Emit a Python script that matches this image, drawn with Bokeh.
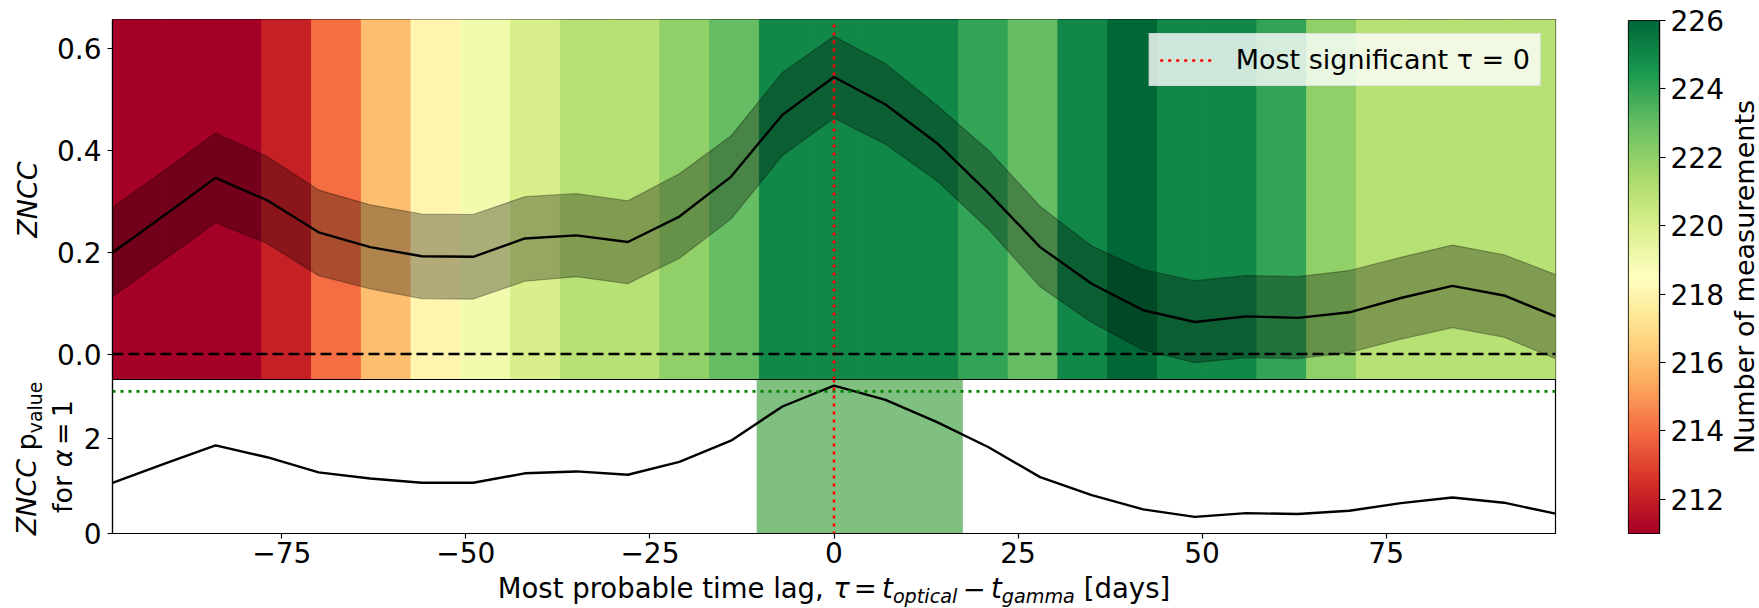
import numpy as np
from bokeh.plotting import figure
from bokeh.models import (Span, BoxAnnotation, Label, Legend, LegendItem, FixedTicker,
                          LinearColorMapper, ColumnDataSource, Range1d, Plot)
from bokeh.layouts import row, column
from bokeh.embed import file_html
from bokeh.resources import INLINE
from bokeh.transform import transform

# ---------------- data ----------------
lags = [-98, -91, -84, -77, -70, -63, -56, -49, -42, -35, -28, -21, -14, -7, 0,
        7, 14, 21, 28, 35, 42, 49, 56, 63, 70, 77, 84, 91, 98]
zncc = [0.199, 0.272, 0.346, 0.302, 0.239, 0.210, 0.192, 0.191, 0.227, 0.233,
        0.220, 0.270, 0.348, 0.470, 0.544, 0.490, 0.414, 0.316, 0.210, 0.138,
        0.086, 0.063, 0.074, 0.071, 0.082, 0.110, 0.134, 0.115, 0.074]
zncc_lo = [0.113, 0.185, 0.258, 0.217, 0.154, 0.128, 0.109, 0.108, 0.143, 0.152,
           0.138, 0.188, 0.265, 0.390, 0.463, 0.412, 0.340, 0.245, 0.132, 0.062,
           0.008, -0.017, -0.007, -0.009, 0.003, 0.029, 0.052, 0.033, -0.009]
zncc_hi = [0.288, 0.360, 0.434, 0.388, 0.322, 0.293, 0.275, 0.274, 0.309, 0.315,
           0.301, 0.354, 0.428, 0.553, 0.624, 0.570, 0.488, 0.400, 0.290, 0.212,
           0.166, 0.144, 0.154, 0.152, 0.164, 0.190, 0.214, 0.195, 0.156]
pvalue = [1.07, 1.47, 1.86, 1.61, 1.29, 1.16, 1.07, 1.07, 1.27, 1.31,
          1.24, 1.51, 1.96, 2.68, 3.12, 2.82, 2.35, 1.82, 1.19, 0.81,
          0.51, 0.35, 0.43, 0.41, 0.48, 0.64, 0.76, 0.65, 0.42]
n_meas = [211, 211, 211, 212, 214, 216, 218, 219, 220, 221, 221, 222, 223, 225, 225,
          225, 225, 224, 223, 225, 226, 225, 225, 224, 222, 221, 221, 221, 221]
best_lag = 0
sig_range = [-10.5, 17.5]
p_threshold = 3.0

x_ticks = [-75, -50, -25, 0, 25, 50, 75]
x_tick_labels = ["\u221275", "\u221250", "\u221225", "0", "25", "50", "75"]
zncc_ticks = [0.0, 0.2, 0.4, 0.6]
zncc_tick_labels = ["0.0", "0.2", "0.4", "0.6"]
p_ticks = [0, 2]
p_tick_labels = ["0", "2"]
cbar_ticks = [212, 214, 216, 218, 220, 222, 224, 226]
cbar_low, cbar_high = 211, 226
zncc_ylim = (-0.05, 0.657)
p_ylim = (0.0, 3.25)
legend_label = "Most significant \u03c4 = 0"
cbar_label = "Number of measurements"
zncc_label = "ZNCC"

# ---------------- style / geometry (page pixels) ----------------
FONT = "DejaVu Sans"
FS = 27          # labels
TFS = 28         # tick labels
XFS = 27.5       # x-axis label
PAGE_W, PAGE_H = 1759, 608
MAIN_W = 1590
LB_W = 75                    # left label strip next to the lower panel
FRAME_L, FRAME_R = 112, 1555
TOP_T, MID, BOT_B, XL_T = 19, 379, 533, 575
CB_L, CB_R, CB_T = 1628, 1659, 20
CBL_X = 1727                 # colour-bar label strip
BASE_K = 0.37                # baseline correction of Bokeh text boxes (fraction of size)
HAS_FA = "frame_align" in Plot.properties()

anchors = ["#a50026", "#d73027", "#f46d43", "#fdae61", "#fee08b", "#ffffbf",
           "#d9ef8b", "#a6d96a", "#66bd63", "#1a9850", "#006837"]
anch = np.array([[int(h[i:i + 2], 16) for i in (1, 3, 5)] for h in anchors], float)
tt = np.linspace(0, 1, 256)
pp = np.linspace(0, 1, len(anchors))
cols = np.stack([np.interp(tt, pp, anch[:, k]) for k in range(3)], 1)
palette = ["#%02x%02x%02x" % tuple(int(round(v)) for v in c) for c in cols]
mapper = LinearColorMapper(palette=palette, low=cbar_low, high=cbar_high)

xr0, xr1 = lags[0], lags[-1]


def style_axis(ax):
    ax.axis_line_color = "black"
    ax.axis_line_width = 1.2
    ax.major_tick_line_color = "black"
    ax.major_tick_line_width = 1.2
    ax.major_tick_out = 5
    ax.major_tick_in = 0
    ax.minor_tick_line_color = None
    ax.major_label_text_font = FONT
    ax.major_label_text_font_size = f"{TFS}px"
    ax.major_label_text_color = "black"
    ax.axis_label_text_font = FONT
    ax.axis_label_text_font_size = f"{FS}px"
    ax.axis_label_text_color = "black"
    ax.axis_label_text_font_style = "normal"


def strip(w, h, xr, yr, xr_aligned, yr_aligned):
    # ranges are page pixels; if frames cannot opt out of layout alignment,
    # use the ranges of the aligned frame instead
    if not HAS_FA:
        xr, yr = xr_aligned, yr_aligned
    f = figure(width=w, height=h, x_range=Range1d(*xr), y_range=Range1d(yr[1], yr[0]),
               output_backend="svg", toolbar_location=None, x_axis_location=None,
               y_axis_location=None, min_border_left=0, min_border_right=0,
               min_border_top=0, min_border_bottom=0)
    if HAS_FA:
        f.frame_align = False
    f.grid.visible = False
    f.outline_line_color = None
    return f


# ---------------- top panel ----------------
top = figure(width=MAIN_W, height=MID, x_range=Range1d(xr0, xr1),
             y_range=Range1d(*zncc_ylim), output_backend="svg", toolbar_location=None,
             x_axis_location=None, min_border_left=FRAME_L,
             min_border_right=MAIN_W - FRAME_R, min_border_top=TOP_T, min_border_bottom=0)
top.grid.visible = False
top.outline_line_color = "black"
top.outline_line_width = 1.2

edges = np.linspace(lags[0], lags[-1], len(n_meas) + 1)
cells = ColumnDataSource(dict(left=edges[:-1], right=edges[1:], n=n_meas))
top.quad(left="left", right="right", bottom=zncc_ylim[0], top=zncc_ylim[1], source=cells,
         fill_color=transform("n", mapper), line_color=transform("n", mapper), line_width=1)

top.varea(x=lags, y1=zncc_lo, y2=zncc_hi, fill_color="black", fill_alpha=0.3)
top.line(lags, zncc_hi, line_color="black", line_alpha=0.3, line_width=1.2)
top.line(lags, zncc_lo, line_color="black", line_alpha=0.3, line_width=1.2)
top.line(lags, zncc, line_color="black", line_width=2.4)

top.add_layout(Span(location=0, dimension="width", line_color="black", line_width=2.6,
                    line_dash="11 5"))
vline = top.line(x=[best_lag, best_lag], y=list(zncc_ylim), line_color="red",
                 line_width=2.6, line_dash="3 5")
leg = Legend(items=[LegendItem(label=legend_label, renderers=[vline])], location="top_right")
leg.margin = 14
leg.padding = 10
leg.glyph_width = 56
leg.label_standoff = 20
leg.label_text_font = FONT
leg.label_text_font_size = f"{FS}px"
leg.label_text_color = "black"
leg.background_fill_color = "white"
leg.background_fill_alpha = 0.8
leg.border_line_color = "#cccccc"
leg.border_line_width = 1
top.add_layout(leg)

style_axis(top.yaxis[0])
top.yaxis.ticker = FixedTicker(ticks=zncc_ticks)
top.yaxis.major_label_overrides = {t: l for t, l in zip(zncc_ticks, zncc_tick_labels)}
top.yaxis.major_label_standoff = 6
top.yaxis.axis_label = zncc_label
top.yaxis.axis_label_text_font_style = "italic"
top.yaxis.axis_label_standoff = 11

# ---------------- bottom panel ----------------
bot = figure(width=MAIN_W - LB_W, height=XL_T - MID, x_range=top.x_range,
             y_range=Range1d(*p_ylim), output_backend="svg", toolbar_location=None,
             min_border_left=FRAME_L - LB_W, min_border_right=MAIN_W - FRAME_R,
             min_border_top=0, min_border_bottom=XL_T - BOT_B)
bot.grid.visible = False
bot.outline_line_color = "black"
bot.outline_line_width = 1.2
bot.add_layout(BoxAnnotation(left=sig_range[0], right=sig_range[1], fill_color="green",
                             fill_alpha=0.5, line_color=None, level="underlay"))
bot.line(lags, pvalue, line_color="black", line_width=2.4)
bot.add_layout(Span(location=p_threshold, dimension="width", line_color="green",
                    line_width=2.6, line_dash="3 5"))
bot.add_layout(Span(location=best_lag, dimension="height", line_color="red", line_width=2.6,
                    line_dash="3 5"))
style_axis(bot.yaxis[0])
style_axis(bot.xaxis[0])
bot.yaxis.ticker = FixedTicker(ticks=p_ticks)
bot.yaxis.major_label_overrides = {t: l for t, l in zip(p_ticks, p_tick_labels)}
bot.yaxis.major_label_standoff = 6
bot.xaxis.ticker = FixedTicker(ticks=x_ticks)
bot.xaxis.major_label_overrides = {t: l for t, l in zip(x_ticks, x_tick_labels)}
bot.xaxis.major_label_standoff = 3

# ---------------- colour bar ----------------
cb = figure(width=CBL_X - MAIN_W, height=PAGE_H, x_range=Range1d(0, 1),
            y_range=Range1d(cbar_low, cbar_high), output_backend="svg",
            toolbar_location=None, x_axis_location=None, y_axis_location="right",
            min_border_left=CB_L - MAIN_W, min_border_right=CBL_X - CB_R,
            min_border_top=CB_T, min_border_bottom=PAGE_H - BOT_B)
cb.grid.visible = False
cb.outline_line_color = "black"
cb.outline_line_width = 1.2
ramp = np.linspace(cbar_low, cbar_high, 256).reshape(256, 1)
cb.image(image=[ramp], x=0, y=cbar_low, dw=1, dh=cbar_high - cbar_low, color_mapper=mapper)
style_axis(cb.yaxis[0])
cb.yaxis.ticker = FixedTicker(ticks=cbar_ticks)
cb.yaxis.major_tick_out = 6
cb.yaxis.major_label_standoff = 5

# ---------------- label strips (coordinates = page pixels) ----------------
lbot = strip(LB_W, XL_T - MID, (0, LB_W), (MID, XL_T), (0, LB_W), (MID, BOT_B))
xlab = strip(MAIN_W, PAGE_H - XL_T, (0, MAIN_W), (XL_T, PAGE_H),
             (FRAME_L, FRAME_R), (XL_T, PAGE_H))
cblab = strip(PAGE_W - CBL_X, PAGE_H, (CBL_X, PAGE_W), (0, PAGE_H),
              (CBL_X, PAGE_W), (CB_T, BOT_B))

W = {' ': 651, ',': 651, '[': 799, ']': 799, 'a': 1255, 'b': 1300, 'c': 1126, 'd': 1300,
     'e': 1260, 'f': 721, 'g': 1300, 'i': 569, 'l': 569, 'm': 1995, 'n': 1298, 'o': 1253,
     'p': 1300, 'r': 842, 's': 1067, 't': 803, 'u': 1298, 'v': 1212, 'y': 1212, 'M': 1767,
     'Z': 1401, 'N': 1532, 'C': 1430, '1': 1303, '0': 1303, '=': 1716, '\u2212': 1716,
     '\u03c4': 1150, '\u03b1': 1300}


def tw(s, size):
    return sum(W.get(ch, 1200) for ch in s) / 2048 * size


def sp(size):
    return ("", 0.195 * size * 1995 / 2048, None, 0)


def ws(size):
    return ("", 651 / 2048 * size, None, 0)


def pieces_width(pieces):
    return sum(p[1] if p[0] == "" else tw(p[0], p[1]) for p in pieces)


def lab(fig, x, y, text, size, style, angle=0.0, align="left"):
    fig.add_layout(Label(x=x, y=y, text=text, text_font=FONT, text_font_size=f"{size:.1f}px",
                         text_font_style=style, text_color="black", angle=angle,
                         text_align=align, text_baseline="alphabetic"))


def draw_h(fig, pieces, cx, base):
    pos = cx - pieces_width(pieces) / 2
    for text, size, style, shift in pieces:
        if text == "":
            pos += size
            continue
        lab(fig, pos, base + shift - BASE_K * size, text, size, style)
        pos += tw(text, size)


def draw_v(fig, pieces, cy, base):
    pos = cy + pieces_width(pieces) / 2
    for text, size, style, shift in pieces:
        if text == "":
            pos -= size
            continue
        lab(fig, base + shift - BASE_K * size, pos, text, size, style, angle=np.pi / 2)
        pos -= tw(text, size)


XS = 0.7 * XFS
xlabel = [("Most probable time lag,", XFS, "normal", 0), ws(XFS), ("\u03c4", XFS, "italic", 0),
          sp(XFS), ("=", XFS, "normal", 0), sp(XFS), ("t", XFS, "italic", 0),
          ("optical", XS, "italic", 5), sp(XFS), ("\u2212", XFS, "normal", 0), sp(XFS),
          ("t", XFS, "italic", 0), ("gamma", XS, "italic", 5), ws(XFS),
          ("[days]", XFS, "normal", 0)]
draw_h(xlab, xlabel, (FRAME_L + FRAME_R) / 2, 598)

SUB = 0.7 * FS
ylab1 = [("ZNCC", FS, "italic", 0), ws(FS), ("p", FS, "normal", 0), ("value", SUB, "normal", 5)]
ylab2 = [("for", FS, "normal", 0), ws(FS), ("\u03b1", FS, "italic", 0), sp(FS),
         ("=", FS, "normal", 0), sp(FS), ("1", FS, "normal", 0)]
draw_v(lbot, ylab1, (MID + BOT_B) / 2 + 2, 36)
draw_v(lbot, ylab2, (MID + BOT_B) / 2, 71.5)
lab(cblab, 1754 - BASE_K * FS, (CB_T + BOT_B) / 2, cbar_label, FS, "normal",
    angle=np.pi / 2, align="center")

layout = row(column(top, row(lbot, bot), xlab), cb, cblab)
open("out.html", "w").write(file_html(layout, INLINE))
